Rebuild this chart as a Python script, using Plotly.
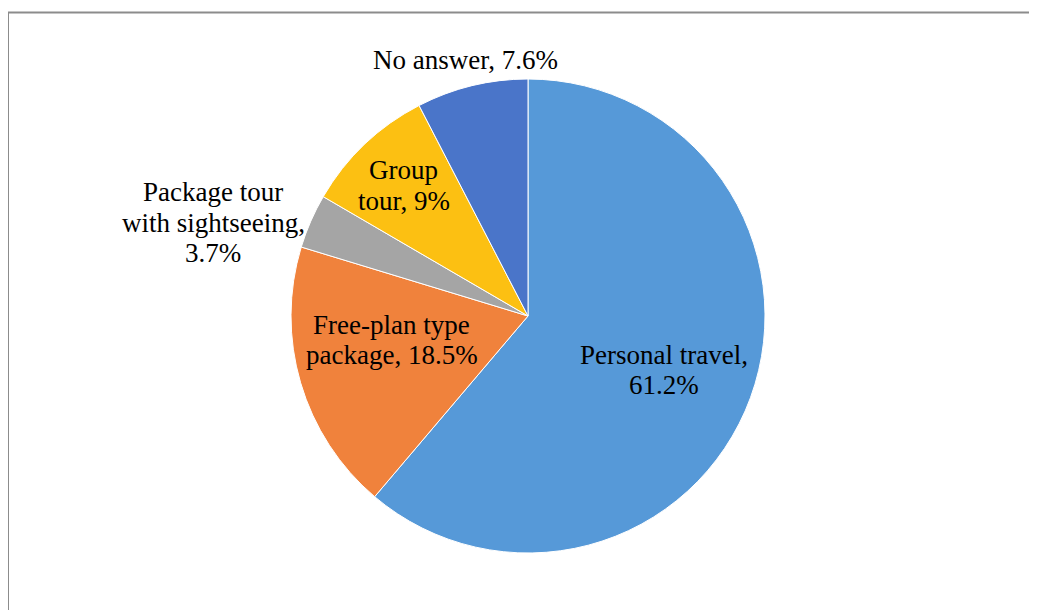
import math
import plotly.graph_objects as go

categories = ["Personal travel", "Free-plan type package", "Package tour with sightseeing",
              "Group tour", "No answer"]
values = [61.2, 18.5, 3.7, 9.0, 7.6]
value_labels = ["61.2%", "18.5%", "3.7%", "9%", "7.6%"]
label_lines = [
    ["Personal travel,", "61.2%"],
    ["Free-plan type", "package, 18.5%"],
    ["Package tour", "with sightseeing,", "3.7%"],
    ["Group", "tour, 9%"],
    ["No answer, 7.6%"],
]
colors = ["#5699d8", "#f0823c", "#a5a5a5", "#fcc012", "#4a75c9"]

W, H = 1037, 610
OFF = 8  # page body margin
CX, CY, R = 528 - OFF, 316 - OFF, 237  # pie centre / radius in px (figure coords)

# label placement (style): radial factor and pixel nudges
label_radius = [0.612, 0.60, 1.45, 0.76, 1.11]
nudge_x = [0, 0, 0, 0, 0]
nudge_y = [-4, 16, -44, 0, 0]
line_gap = 30.6
font_size = 27

dom_x = [(CX - R) / W, (CX + R) / W]
dom_y = [1 - (CY + R) / H, 1 - (CY - R) / H]

fig = go.Figure(go.Pie(
    labels=categories,
    values=values,
    sort=False,
    direction="clockwise",
    rotation=0,
    marker=dict(colors=colors, line=dict(color="white", width=1)),
    textinfo="none",
    hoverinfo="label+percent",
    showlegend=False,
    domain=dict(x=dom_x, y=dom_y),
))

annotations = []
total = sum(values)
cum = 0.0
for i, v in enumerate(values):
    mid = (cum + v / 2) / total * 2 * math.pi
    cum += v
    dx = math.sin(mid) * label_radius[i] * R + nudge_x[i]
    dy = math.cos(mid) * label_radius[i] * R + nudge_y[i]
    px = (CX + dx) / W
    py = 1 - (CY - dy) / H
    lines = label_lines[i]
    n = len(lines)
    for j, t in enumerate(lines):
        annotations.append(dict(
            x=px, y=py, xref="paper", yref="paper",
            text=t, showarrow=False, xanchor="center", yanchor="middle",
            yshift=((n - 1) / 2 - j) * line_gap,
            font=dict(family="Liberation Serif, Times New Roman, serif", size=font_size, color="black"),
        ))

fig.update_layout(
    width=W, height=H,
    margin=dict(l=0, r=0, t=0, b=0),
    paper_bgcolor="white",
    plot_bgcolor="white",
    annotations=annotations,
    shapes=[dict(type="rect", xref="paper", yref="paper",
                 x0=0, x1=1.02, y0=-0.02, y1=1 - 4.5 / H,
                 line=dict(color="#8c8c8c", width=2), fillcolor="rgba(0,0,0,0)", layer="below")],
)

fig.write_html("out.html")
